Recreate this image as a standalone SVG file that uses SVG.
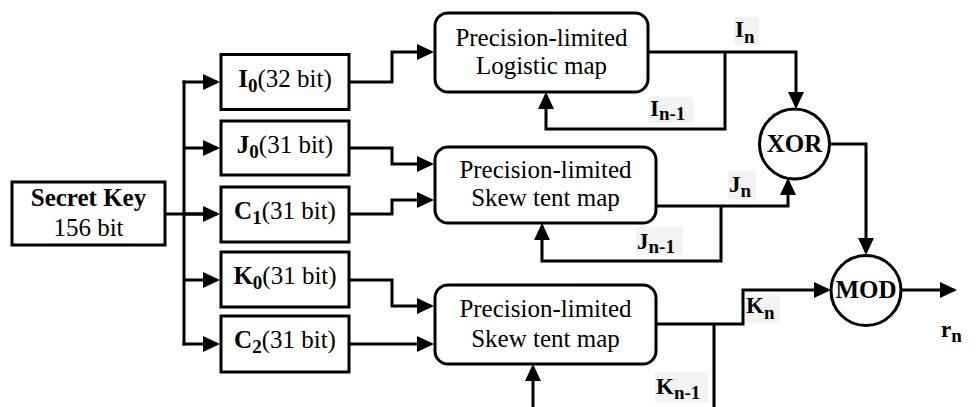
<svg xmlns="http://www.w3.org/2000/svg" width="978" height="407" viewBox="0 0 978 407">
  <style>
    .box { fill: #fff; stroke: #000; stroke-width: 3; }
    .line { fill: none; stroke: #000; stroke-width: 3; stroke-linejoin: miter; }
    .arr { marker-end: url(#arrow); }
    text { font-family: 'Liberation Serif', 'DejaVu Serif', 'Noto Serif', serif; fill: #000; }
    .reg { font-size: 25px; }
    .bold { font-size: 25px; font-weight: bold; }
    .sub { font-size: 19px; font-weight: bold; }
    .lbl { font-size: 23px; font-weight: bold; }
    .lblbg { fill: #f3f3f3; stroke: none; }
  </style>
  <defs>
    <marker id="arrow" markerUnits="userSpaceOnUse" markerWidth="17" markerHeight="16" refX="14" refY="8" orient="auto">
      <path d="M0,0 L17,8 L0,16 z" fill="#000"/>
    </marker>
  </defs>

  <rect width="978" height="407" fill="#fff"/>

  <!-- connectors -->
  <g id="connectors">
    <!-- key distribution bus -->
    <path class="line" d="M165,214 H217"/>
    <path class="line" d="M184,80.5 V345.5"/>
    <path class="line arr" d="M182.5,82 H217"/>
    <path class="line arr" d="M184,148 H217"/>
    <path class="line arr" d="M184,214 H217"/>
    <path class="line arr" d="M184,280 H217"/>
    <path class="line arr" d="M182.5,344 H217"/>

    <!-- seeds into the maps -->
    <path class="line arr" d="M349,82 H392 V52 H431"/>
    <path class="line arr" d="M349,148 H392 V164 H431"/>
    <path class="line arr" d="M349,214 H392 V200 H431"/>
    <path class="line arr" d="M349,280 H392 V306 H431"/>
    <path class="line arr" d="M349,344 H431"/>

    <!-- logistic map output and feedback -->
    <path class="line arr" d="M648,52 H796 V106"/>
    <path class="line arr" d="M725,52 V129 H546 V95"/>

    <!-- first skew tent map output and feedback -->
    <path class="line arr" d="M656,206 H788 V181"/>
    <path class="line arr" d="M721,206 V261 H542 V226"/>

    <!-- XOR to MOD -->
    <path class="line arr" d="M830,144 H866 V252"/>

    <!-- second skew tent map output and feedback -->
    <path class="line arr" d="M656,324 H743 V290 H828"/>
    <path class="line" d="M714,324 V410"/>
    <path class="line arr" d="M533,410 V367"/>

    <!-- result -->
    <path class="line arr" d="M902,290 H954"/>
  </g>

  <!-- secret key -->
  <g id="secret-key">
    <rect class="box" x="12" y="182" width="153" height="63"/>
    <text class="bold" x="88.5" y="206" text-anchor="middle">Secret Key</text>
    <text class="reg" x="88.5" y="236" text-anchor="middle">156 bit</text>
  </g>

  <!-- key parts -->
  <g id="i0">
    <rect class="box" x="221" y="54.5" width="128" height="55"/>
    <text class="reg" x="285" y="87" text-anchor="middle"><tspan class="bold">I</tspan><tspan class="sub" dy="5">0</tspan><tspan dy="-5">(32 bit)</tspan></text>
  </g>
  <g id="j0">
    <rect class="box" x="221" y="121" width="128" height="54"/>
    <text class="reg" x="285" y="153" text-anchor="middle"><tspan class="bold">J</tspan><tspan class="sub" dy="5">0</tspan><tspan dy="-5">(31 bit)</tspan></text>
  </g>
  <g id="c1">
    <rect class="box" x="221" y="187" width="128" height="55"/>
    <text class="reg" x="285" y="219" text-anchor="middle"><tspan class="bold">C</tspan><tspan class="sub" dy="5">1</tspan><tspan dy="-5">(31 bit)</tspan></text>
  </g>
  <g id="k0">
    <rect class="box" x="221" y="252" width="128" height="55"/>
    <text class="reg" x="285" y="284" text-anchor="middle"><tspan class="bold">K</tspan><tspan class="sub" dy="5">0</tspan><tspan dy="-5">(31 bit)</tspan></text>
  </g>
  <g id="c2">
    <rect class="box" x="221" y="316" width="128" height="56"/>
    <text class="reg" x="285" y="348" text-anchor="middle"><tspan class="bold">C</tspan><tspan class="sub" dy="5">2</tspan><tspan dy="-5">(31 bit)</tspan></text>
  </g>

  <!-- chaotic maps -->
  <g id="logistic-map">
    <rect class="box" x="435" y="13" width="213" height="79" rx="13"/>
    <text class="reg" x="541.5" y="46" text-anchor="middle">Precision-limited</text>
    <text class="reg" x="541.5" y="74" text-anchor="middle">Logistic map</text>
  </g>
  <g id="skew-tent-map-1">
    <rect class="box" x="435" y="147" width="221" height="76" rx="13"/>
    <text class="reg" x="545.5" y="178" text-anchor="middle">Precision-limited</text>
    <text class="reg" x="545.5" y="206" text-anchor="middle">Skew tent map</text>
  </g>
  <g id="skew-tent-map-2">
    <rect class="box" x="435" y="285" width="221" height="79" rx="13"/>
    <text class="reg" x="545.5" y="317" text-anchor="middle">Precision-limited</text>
    <text class="reg" x="545.5" y="347" text-anchor="middle">Skew tent map</text>
  </g>

  <!-- operators -->
  <g id="xor">
    <circle class="box" cx="794.5" cy="144" r="35"/>
    <text class="bold" x="794.5" y="152" text-anchor="middle">XOR</text>
  </g>
  <g id="mod">
    <circle class="box" cx="866" cy="290.5" r="35"/>
    <text class="bold" x="866" y="298" text-anchor="middle">MOD</text>
  </g>

  <!-- signal labels -->
  <g id="labels">
    <rect class="lblbg" x="734" y="17" width="25" height="28"/>
    <text class="lbl" x="735" y="37">I<tspan class="sub" dy="6">n</tspan></text>

    <rect class="lblbg" x="649" y="97" width="45" height="26"/>
    <text class="lbl" x="650" y="116">I<tspan class="sub" dy="4">n-1</tspan></text>

    <rect class="lblbg" x="728" y="171" width="28" height="28"/>
    <text class="lbl" x="729" y="192">J<tspan class="sub" dy="5">n</tspan></text>

    <rect class="lblbg" x="636" y="227" width="47" height="28"/>
    <text class="lbl" x="637" y="249">J<tspan class="sub" dy="4">n-1</tspan></text>

    <rect class="lblbg" x="745" y="295" width="35" height="28"/>
    <text class="lbl" x="746" y="313">K<tspan class="sub" dy="6">n</tspan></text>

    <rect class="lblbg" x="655" y="372" width="53" height="30"/>
    <text class="lbl" x="656" y="394">K<tspan class="sub" dy="5">n-1</tspan></text>

    <text class="lbl" x="941" y="337">r<tspan class="sub" dy="5">n</tspan></text>
  </g>
</svg>
